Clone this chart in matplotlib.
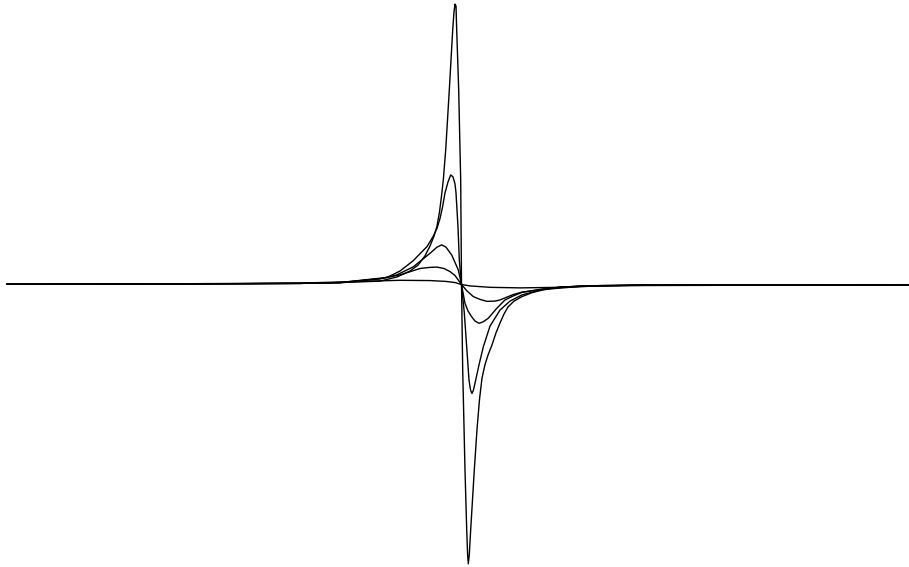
import numpy as np
import matplotlib
matplotlib.use('Agg')
import matplotlib.pyplot as plt

# Dispersion-shaped line profiles, traced point by point (x = detuning, y = normalised signal)
x1 = [-45.45, -26.15, -16.15, -12.15, -8.15, -6.45, -5.15, -4.35, -3.65, -3.15,
      -2.75, -2.45, -2.2, -2.0, -1.82, -1.58, -1.22, -0.88, -0.75, -0.65,
      -0.55, -0.48, -0.28, -0.15, -0.08, -0.05, 0.0, 0.12, 0.35, 0.52,
      0.61, 0.68, 0.78, 0.92, 1.28, 1.55, 1.8, 2.05, 2.35, 2.65,
      3.05, 3.45, 3.85, 4.25, 4.65, 5.25, 6.05, 7.05, 8.05, 9.85,
      13.85, 17.85, 46.0]
y1 = [0.001, 0.002, 0.004, 0.007, 0.012, 0.027, 0.048, 0.069, 0.102, 0.137,
      0.172, 0.208, 0.258, 0.315, 0.372, 0.479, 0.692, 0.906, 0.970, 0.998,
      0.991, 0.906, 0.692, 0.479, 0.372, 0.228, 0.0, -0.304, -0.660, -0.872,
      -0.961, -0.994, -0.961, -0.872, -0.660, -0.516, -0.409, -0.333, -0.285, -0.251,
      -0.215, -0.172, -0.137, -0.105, -0.080, -0.059, -0.043, -0.029, -0.020, -0.009,
      -0.004, -0.002, -0.001]

x2 = [-45.45, -26.15, -16.15, -12.15, -7.45, -6.15, -4.85, -3.45, -2.85, -2.45,
      -2.15, -1.9, -1.65, -1.35, -1.08, -0.85, -0.65, -0.55, -0.35, -0.22,
      0.0, 0.28, 0.52, 0.75, 0.90, 1.05, 1.20, 1.42, 1.75, 2.18,
      2.85, 3.85, 4.85, 6.05, 8.05, 9.85, 13.85, 46.0]
y2 = [0.001, 0.002, 0.004, 0.007, 0.025, 0.048, 0.084, 0.135, 0.170, 0.200,
      0.235, 0.275, 0.326, 0.365, 0.390, 0.383, 0.358, 0.326, 0.205, 0.087,
      0.0, -0.101, -0.222, -0.340, -0.375, -0.388, -0.375, -0.340, -0.286, -0.222,
      -0.148, -0.091, -0.059, -0.037, -0.018, -0.009, -0.004, -0.001]

x3 = [-45.45, -16.15, -12.15, -8.15, -6.48, -4.82, -3.15, -2.45, -1.98, -1.55,
      -0.98, -0.32, 0.0, 0.35, 0.65, 1.02, 1.35, 1.75, 2.15, 2.68,
      3.52, 4.35, 5.15, 6.05, 8.05, 11.85, 17.85, 46.0]
y3 = [0.001, 0.004, 0.006, 0.020, 0.034, 0.063, 0.111, 0.133, 0.141, 0.133,
      0.105, 0.052, 0.0, -0.067, -0.094, -0.115, -0.130, -0.138, -0.133, -0.120,
      -0.085, -0.055, -0.041, -0.028, -0.016, -0.005, -0.002, -0.001]

x4 = [-45.45, -16.15, -12.15, -8.15, -6.15, -4.15, -3.15, -2.45, -1.75, -1.15,
      -0.65, 0.0, 0.55, 1.18, 1.85, 2.55, 3.35, 3.85, 5.15, 6.05,
      8.05, 11.85, 17.85, 46.0]
y4 = [0.001, 0.004, 0.007, 0.021, 0.034, 0.057, 0.061, 0.062, 0.057, 0.046,
      0.032, 0.0, -0.023, -0.043, -0.053, -0.060, -0.059, -0.055, -0.036, -0.027,
      -0.018, -0.007, -0.002, -0.001]

x5 = [-45.45, -26.15, -16.15, -10.15, -6.15, -3.15, -1.55, -0.65, 0.0, 0.85,
      2.85, 5.85, 9.85, 13.85, 19.85, 46.0]
y5 = [0.001, 0.002, 0.005, 0.011, 0.015, 0.014, 0.011, 0.007, 0.0, -0.005,
      -0.010, -0.012, -0.010, -0.005, -0.002, -0.001]

fig = plt.figure(figsize=(9.09, 5.67), dpi=100)
ax = fig.add_axes([0, 0, 1, 1])

for xs, ys in [(x1, y1), (x2, y2), (x3, y3), (x4, y4), (x5, y5)]:
    ax.plot(np.array(xs), np.array(ys), color='black', lw=1.0)

ax.set_xlim(-46.15, 44.75)
ax.set_ylim(-1.0053, 1.0125)
ax.axis('off')

fig.savefig('out.png', dpi=100)
